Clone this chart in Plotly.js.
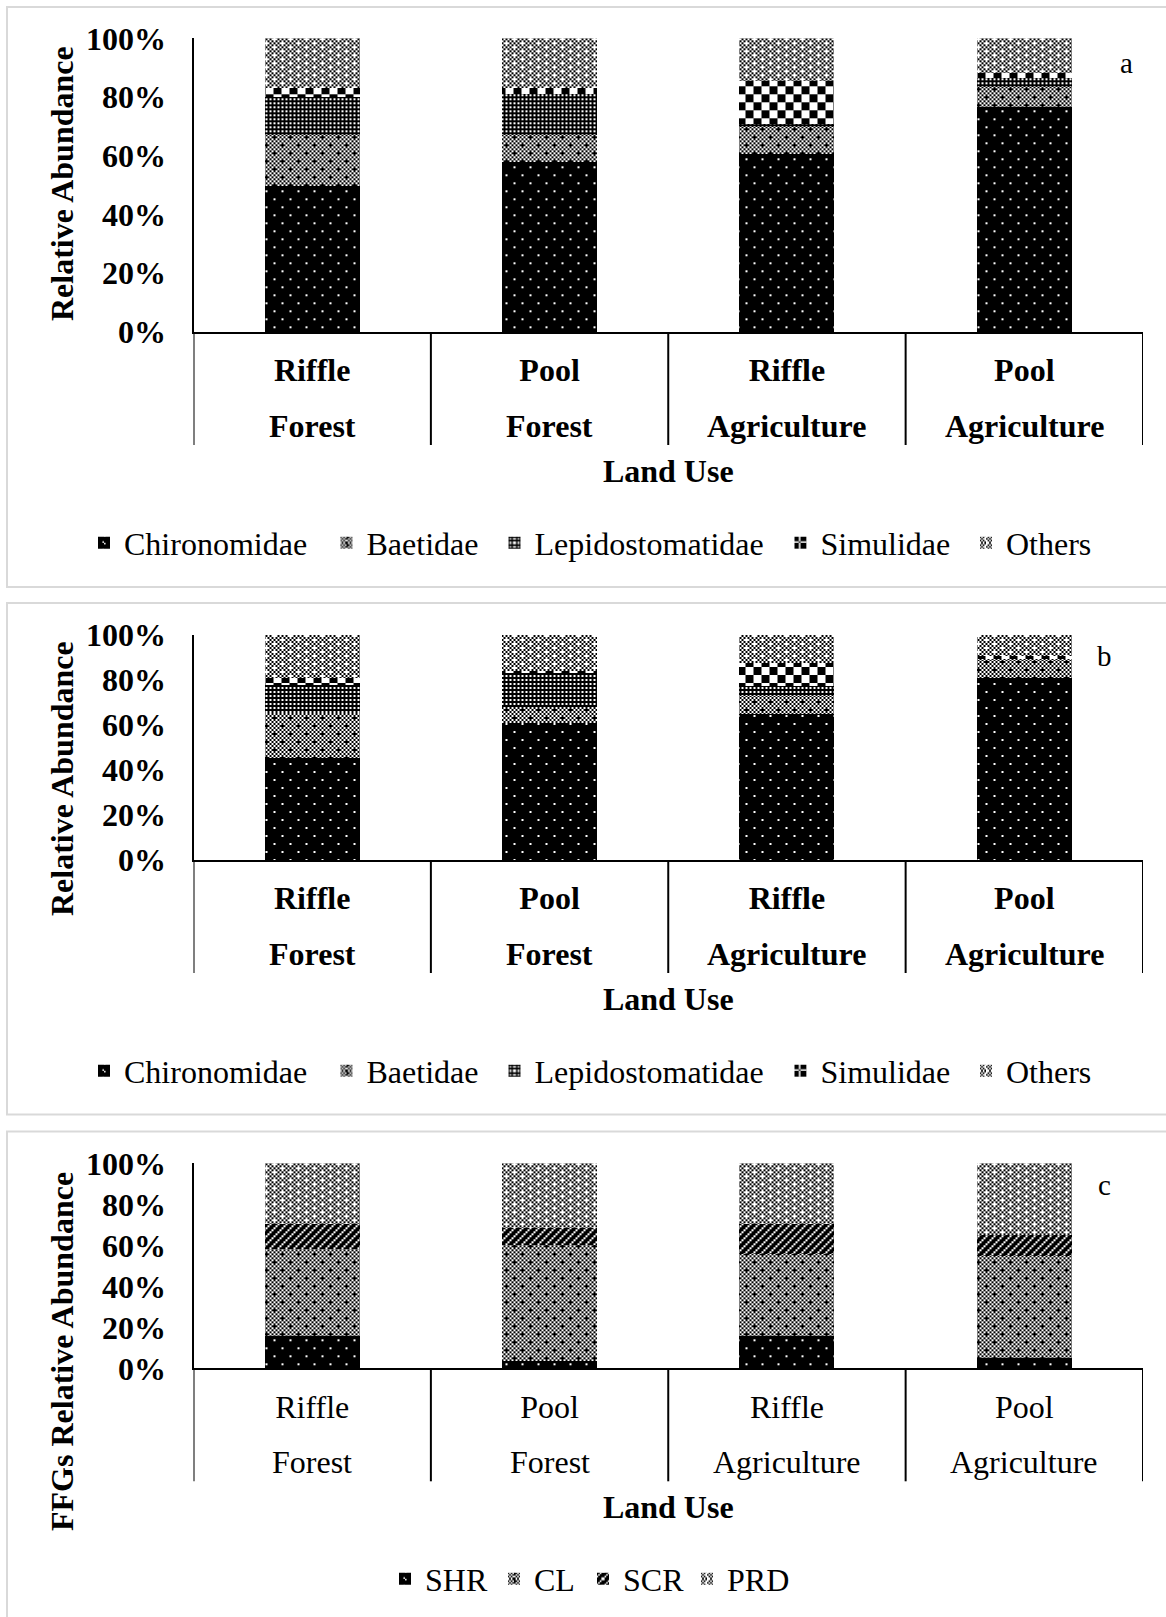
<!DOCTYPE html>
<html>
<head>
<meta charset="utf-8">
<script src="https://cdn.plot.ly/plotly-3.0.1.min.js"></script>
<style>
  html, body { margin: 0; padding: 0; background: #ffffff; }
  #chart { width: 1166px; height: 1617px; }
</style>
</head>
<body>
<div id="chart"></div>
<script>
// ---- Categories shared by the three panels ----
const habitat = ['Riffle', 'Pool', 'Riffle', 'Pool'];
const landUse = ['Forest', 'Forest', 'Agriculture', 'Agriculture'];
const yTicks = [0, 20, 40, 60, 80, 100];

// ---- Panel a: relative abundance (%) of dominant taxa ----
const taxa = ['Chironomidae', 'Baetidae', 'Lepidostomatidae', 'Simulidae', 'Others'];
const chironomidaeA = [49.8, 57.8, 60.7, 76.7];
const baetidaeA = [17.3, 9.3, 9.0, 6.6];
const lepidostomatidaeA = [12.8, 13.9, 1.2, 3.1];
const simulidaeA = [3.1, 2.0, 14.5, 1.9];
const othersA = [17.0, 17.0, 14.6, 11.7];

// ---- Panel b: relative abundance (%) of dominant taxa ----
const chironomidaeB = [45.5, 61.0, 64.7, 81.0];
const baetidaeB = [19.7, 6.9, 8.2, 8.0];
const lepidostomatidaeB = [12.6, 15.1, 4.3, 0.4];
const simulidaeB = [2.9, 1.0, 10.3, 1.3];
const othersB = [19.3, 16.0, 12.5, 9.3];

// ---- Panel c: functional feeding groups (%) ----
const ffgs = ['SHR', 'CL', 'SCR', 'PRD'];
const shr = [15.8, 3.6, 15.9, 5.2];
const cl = [42.4, 56.6, 39.9, 49.6];
const scr = [12.2, 8.1, 14.6, 10.2];
const prd = [29.6, 31.7, 29.6, 35.0];

const panelLetters = ['a', 'b', 'c'];
const yTitles = ['Relative Abundance', 'Relative Abundance', 'FFGs Relative Abundance'];
const xTitle = 'Land Use';

// ---- Fill textures: 8x8 bitmaps, '1' = black cell ----
const bitmaps = {
  dots:    ['01111111','11111111','11111111','11111111','11110111','11111111','11111111','11111111'],
  sixty:   ['10101010','11010101','10101010','01010101','10101010','01011101','10101010','01010101'],
  dark:    ['01010101','11111111','01010101','11111111','01010101','11111111','01010101','11111111'],
  checker: ['11110000','11110000','11110000','11110000','00001111','00001111','00001111','00001111'],
  forty:   ['00101010','01010101','10100010','01010101','00101010','01010101','10100010','01010101'],
  diag:    ['01110111','11101110','11011101','10111011','01110111','11101110','11011101','10111011']
};
// built-in pattern shapes used when custom paths are unavailable
const fallback = {
  dots:    { shape: '.', size: 8, solidity: 0.06, fgcolor: '#ffffff', bgcolor: '#000000' },
  sixty:   { shape: 'x', size: 4, solidity: 0.55, fgcolor: '#000000', bgcolor: '#ffffff' },
  dark:    { shape: '+', size: 4, solidity: 0.75, fgcolor: '#000000', bgcolor: '#ffffff' },
  checker: { shape: 'x', size: 12, solidity: 0.5, fgcolor: '#000000', bgcolor: '#ffffff' },
  forty:   { shape: 'x', size: 4, solidity: 0.4, fgcolor: '#000000', bgcolor: '#ffffff' },
  diag:    { shape: '/', size: 8, solidity: 0.75, fgcolor: '#000000', bgcolor: '#ffffff' }
};
const CELL = 2;

function bitmapPath(rows, unit) {
  let d = '';
  rows.forEach((row, r) => {
    let c = 0;
    while (c < row.length) {
      if (row[c] === '1') {
        let e = c;
        while (e < row.length && row[e] === '1') e++;
        d += 'M' + (c * unit) + ',' + (r * unit) + 'h' + ((e - c) * unit) + 'v' + unit + 'h' + (-(e - c) * unit) + 'z';
        c = e;
      } else {
        c++;
      }
    }
  });
  return d;
}

let pathSupported = false;
try {
  const pat = Plotly.PlotSchema.get().traces.bar.attributes.marker.pattern;
  pathSupported = !!(pat && pat.path);
} catch (e) { pathSupported = false; }

function pattern(key) {
  if (pathSupported) {
    return { path: bitmapPath(bitmaps[key], CELL), size: 8 * CELL, fgcolor: '#000000', bgcolor: '#ffffff', fgopacity: 1, solidity: 1 };
  }
  return Object.assign({ fgopacity: 1 }, fallback[key]);
}

// ---- Page geometry (pixels on the 1166 x 1617 page) ----
const W = 1166, H = 1617;
const fx = x => x / W;
const fy = y => 1 - y / H;
const FONT = '"Liberation Serif", "Times New Roman", Times, serif';
const FS = 32;
const plotLeft = 193.5, plotRight = 1143;
const dividerDepth = 113;
const landUseDepth = 94;

// legendX: left edge of each legend entry
const frames = [
  { id: '',  boxTop: 7,      boxBottom: 587,    y100: 38.3,   y0: 332,    yTitle: 184,  letter: [1126, 63], legendY: 543,  legendX: [84, 326.5, 494.5, 780.5, 966], bold: true },
  { id: '2', boxTop: 603,    boxBottom: 1114.5, y100: 635,    y0: 860,    yTitle: 779,  letter: [1104.5, 656], legendY: 1071, legendX: [84, 326.5, 494.5, 780.5, 966], bold: true },
  { id: '3', boxTop: 1131.5, boxBottom: 1660,   y100: 1163.3, y0: 1368.3, yTitle: 1352, letter: [1104, 1185], legendY: 1579, legendX: [385, 494, 583, 687], bold: false }
];

const panels = [
  { names: taxa, values: [chironomidaeA, baetidaeA, lepidostomatidaeA, simulidaeA, othersA], fills: ['dots', 'sixty', 'dark', 'checker', 'forty'] },
  { names: taxa, values: [chironomidaeB, baetidaeB, lepidostomatidaeB, simulidaeB, othersB], fills: ['dots', 'sixty', 'dark', 'checker', 'forty'] },
  { names: ffgs, values: [shr, cl, scr, prd], fills: ['dots', 'sixty', 'diag', 'forty'] }
];

const keys = habitat.map((h, i) => h + ' / ' + landUse[i]);

const traces = [];
const layout = {
  width: W, height: H,
  margin: { l: 0, r: 0, t: 0, b: 0, pad: 0 },
  paper_bgcolor: '#ffffff', plot_bgcolor: '#ffffff',
  font: { family: FONT, size: FS, color: '#000000' },
  barmode: 'stack', barnorm: 'percent', bargap: 0.6,
  showlegend: true,
  shapes: [], annotations: []
};

let legendCount = 0;
frames.forEach((f, p) => {
  const xa = 'x' + f.id, ya = 'y' + f.id;
  const weight = f.bold ? 'bold' : 'normal';

  // panel frame
  layout.shapes.push({ type: 'rect', xref: 'paper', yref: 'paper', x0: fx(7), x1: 1.05, y0: fy(f.boxBottom), y1: fy(f.boxTop),
    line: { color: '#d9d9d9', width: 2 }, fillcolor: 'rgba(0,0,0,0)', layer: 'below' });

  layout['xaxis' + f.id] = {
    domain: [fx(plotLeft), fx(plotRight)], anchor: ya, type: 'category',
    categoryorder: 'array', categoryarray: keys,
    tickmode: 'array', tickvals: keys, ticktext: habitat,
    range: [-0.5, keys.length - 0.5],
    showline: true, linecolor: '#000000', linewidth: 2, ticks: '', showgrid: false, zeroline: false,
    tickfont: { family: FONT, size: FS, color: '#000000', weight: weight },
    ticklabelstandoff: 9,
    title: { text: xTitle, font: { family: FONT, size: FS, color: '#000000', weight: 'bold' }, standoff: 72 },
    fixedrange: true
  };
  layout['yaxis' + f.id] = {
    domain: [fy(f.y0), fy(f.y100)], anchor: xa, range: [0, 100],
    tickmode: 'array', tickvals: yTicks, ticktext: yTicks.map(v => v + '%'),
    showline: true, linecolor: '#000000', linewidth: 2, ticks: '', showgrid: false, zeroline: false,
    tickfont: { family: FONT, size: FS, color: '#000000', weight: 'bold' },
    ticklabelstandoff: 19, fixedrange: true
  };

  // category dividers below the axis
  for (let k = 0; k <= keys.length; k++) {
    layout.shapes.push({ type: 'line', xref: xa, yref: 'paper', x0: k - 0.5, x1: k - 0.5,
      y0: fy(f.y0), y1: fy(f.y0 + dividerDepth), line: { color: '#000000', width: 2 } });
  }
  // second-level category labels (land use)
  keys.forEach((key, i) => {
    layout.annotations.push({ xref: xa, yref: 'paper', x: key, y: fy(f.y0 + landUseDepth),
      text: landUse[i], showarrow: false, xanchor: 'center', yanchor: 'middle',
      font: { family: FONT, size: FS, color: '#000000', weight: weight } });
  });
  // y-axis title
  layout.annotations.push({ xref: 'paper', yref: 'paper', x: fx(62), y: fy(f.yTitle), text: yTitles[p],
    textangle: -90, showarrow: false, xanchor: 'center', yanchor: 'middle',
    font: { family: FONT, size: FS, color: '#000000', weight: 'bold' } });
  // panel letter
  layout.annotations.push({ xref: 'paper', yref: 'paper', x: fx(f.letter[0]), y: fy(f.letter[1]), text: panelLetters[p],
    showarrow: false, xanchor: 'center', yanchor: 'middle',
    font: { family: FONT, size: 29, color: '#000000' } });

  const pan = panels[p];
  pan.names.forEach((name, s) => {
    legendCount++;
    const lid = legendCount === 1 ? 'legend' : 'legend' + legendCount;
    layout[lid] = {
      x: fx(f.legendX[s]), y: fy(f.legendY), xanchor: 'left', yanchor: 'middle',
      orientation: 'h', bgcolor: 'rgba(0,0,0,0)', borderwidth: 0,
      font: { family: FONT, size: FS, color: '#000000' }
    };
    traces.push({
      type: 'bar', name: name, x: keys, y: pan.values[s],
      xaxis: xa, yaxis: ya, legend: lid, showlegend: true,
      marker: { color: '#000000', pattern: pattern(pan.fills[s]), line: { width: 0 } },
      hoverinfo: 'skip'
    });
  });
});

Plotly.newPlot('chart', traces, layout, { staticPlot: true, displayModeBar: false });
</script>
</body>
</html>
